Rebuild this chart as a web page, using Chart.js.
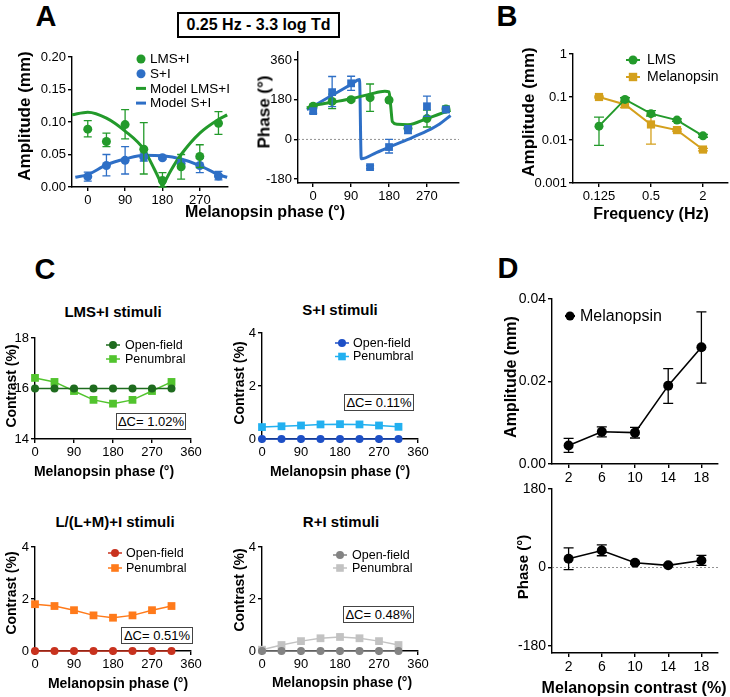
<!DOCTYPE html>
<html><head><meta charset="utf-8"><title>Figure</title>
<script src="https://cdn.jsdelivr.net/npm/chart.js@4.4.1/dist/chart.umd.min.js"></script>
<style>
html,body{margin:0;padding:0;background:#fff;}
body{width:730px;height:697px;position:relative;overflow:hidden;font-family:"Liberation Sans",Arial,Helvetica,sans-serif;color:#000;}
canvas{position:absolute;z-index:1;}
.h,.v,.L{position:absolute;white-space:nowrap;font-weight:bold;line-height:1;z-index:2;}
.h,.L{transform:translate(-50%,-50%);}
.v{transform:translate(-50%,-50%) rotate(-90deg);}
.L{font-size:29px;}
.dc{position:absolute;box-sizing:border-box;height:17px;border:1.2px solid #444;font-size:13px;line-height:15px;text-align:center;z-index:2;background:#fff;white-space:nowrap;overflow:visible;}
#tbox{position:absolute;left:177px;top:12px;width:163px;height:26px;box-sizing:border-box;border:2px solid #000;font-weight:bold;font-size:16px;line-height:22px;text-align:center;z-index:2;}
</style></head>
<body>
<div class="L" style="left:46px;top:16px">A</div>
<div class="L" style="left:507px;top:16px">B</div>
<div class="L" style="left:45px;top:269px">C</div>
<div class="L" style="left:508px;top:268px">D</div>
<div id="tbox">0.25 Hz - 3.3 log Td</div>
<div class="v" style="left:24px;top:116px;font-size:17px">Amplitude (mm)</div>
<div class="v" style="left:264px;top:112px;font-size:17px">Phase (°)</div>
<div class="h" style="left:265px;top:212px;font-size:16px">Melanopsin phase (°)</div>
<div class="v" style="left:528px;top:112px;font-size:17px">Amplitude (mm)</div>
<div class="h" style="left:651px;top:214px;font-size:16px">Frequency (Hz)</div>
<div class="h" style="left:113px;top:311px;font-size:15px">LMS+I stimuli</div>
<div class="h" style="left:340px;top:309px;font-size:15px">S+I stimuli</div>
<div class="h" style="left:115px;top:521px;font-size:15px">L/(L+M)+I stimuli</div>
<div class="h" style="left:341px;top:521px;font-size:15px">R+I stimuli</div>
<div class="v" style="left:11px;top:386px;font-size:14px">Contrast (%)</div>
<div class="v" style="left:239px;top:383px;font-size:14px">Contrast (%)</div>
<div class="v" style="left:11px;top:593px;font-size:14px">Contrast (%)</div>
<div class="v" style="left:239px;top:590px;font-size:14px">Contrast (%)</div>
<div class="h" style="left:104px;top:471px;font-size:14px">Melanopsin phase (°)</div>
<div class="h" style="left:340px;top:471px;font-size:14px">Melanopsin phase (°)</div>
<div class="h" style="left:118px;top:683px;font-size:14px">Melanopsin phase (°)</div>
<div class="h" style="left:342px;top:682px;font-size:14px">Melanopsin phase (°)</div>
<div class="dc" style="left:116px;top:413px;width:70px">ΔC= 1.02%</div>
<div class="dc" style="left:344px;top:394px;width:70px">ΔC= 0.11%</div>
<div class="dc" style="left:121px;top:627px;width:72px">ΔC= 0.51%</div>
<div class="dc" style="left:343px;top:606px;width:71px">ΔC= 0.48%</div>
<div class="v" style="left:511px;top:377px;font-size:16px">Amplitude (mm)</div>
<div class="v" style="left:522px;top:567px;font-size:15px">Phase (°)</div>
<div class="h" style="left:634px;top:688px;font-size:16px">Melanopsin contrast (%)</div>
<script>
// ---------------- DATA ----------------
// Panel A
const phaseDeg = [0, 45, 90, 135, 180, 225, 270, 315];
const ampLMS   = [0.089, 0.070, 0.096, 0.058, 0.010, 0.031, 0.047, 0.098];
const ampLMSLo = [0.077, 0.062, 0.074, 0.020, 0.000, 0.012, 0.030, 0.081];
const ampLMSHi = [0.102, 0.083, 0.119, 0.099, 0.022, 0.050, 0.065, 0.116];
const ampS     = [0.016, 0.033, 0.041, 0.046, 0.045, 0.036, 0.033, 0.017];
const ampSLo   = [0.009, 0.017, 0.020, 0.040, 0.043, 0.030, 0.022, 0.011];
const ampSHi   = [0.023, 0.050, 0.062, 0.052, 0.047, 0.042, 0.044, 0.024];
const modelAmpX_LMS = [-38, 0, 45, 90, 135, 160, 175, 180, 185, 200, 225, 270, 315, 336];
const modelAmpLMS   = [0.111, 0.115, 0.106, 0.086, 0.058, 0.028, 0.008, 0.001, 0.007, 0.025, 0.050, 0.083, 0.104, 0.111];
const modelAmpX_S   = [-30, 0, 45, 90, 135, 180, 225, 270, 315, 336];
const modelAmpS     = [0.015, 0.019, 0.034, 0.043, 0.049, 0.048, 0.043, 0.033, 0.019, 0.015];
const phLMS   = [150, 172, 180, 189, 178, 50, 94, 138];
const phLMSLo = [141, 139, 172, 127, 170, 42, 56, 126];
const phLMSHi = [159, 205, 188, 251, 186, 58, 132, 150];
const phS     = [128, 214, 254, -126, -35, 44, 150, 135];
const phSLo   = [118, 148, 222, -133, -62, 26, 104, 122];
const phSHi   = [138, 285, 286, -119, 0, 62, 196, 148];
const modelPhX_LMS = [-15, 0, 45, 90, 135, 170, 180, 184, 188, 200, 225, 270, 300, 326];
const modelPhLMS   = [142, 152, 168, 184, 205, 218, 215, 150, 80, 68, 66, 94, 115, 131];
const modelPhX_S   = [-15, 0, 45, 90, 110, 114, 150, 180, 225, 270, 300, 326];
const modelPhS     = [135, 150, 200, 249, 271, -88, -60, -35, 0, 38, 70, 108];
// Panel B
const freqHz      = [0.125, 0.25, 0.5, 1, 2];
const ampB_LMS    = [0.021, 0.088, 0.041, 0.029, 0.0125];
const ampB_LMSLo  = [0.0075, 0.080, 0.036, 0.027, 0.0116];
const ampB_LMSHi  = [0.034, 0.096, 0.048, 0.031, 0.0135];
const ampB_Mel    = [0.100, 0.067, 0.023, 0.017, 0.006];
const ampB_MelLo  = [0.095, 0.057, 0.008, 0.016, 0.0056];
const ampB_MelHi  = [0.105, 0.077, 0.038, 0.018, 0.0064];
// Panel C
const c1Open = [16, 16, 16, 16, 16, 16, 16, 16];
const c1Pen  = [16.42, 16.26, 15.9, 15.55, 15.4, 15.55, 15.9, 16.26];
const c2Open = [0, 0, 0, 0, 0, 0, 0, 0];
const c2Pen  = [0.45, 0.48, 0.51, 0.55, 0.56, 0.55, 0.51, 0.46];
const c3Open = [0, 0, 0, 0, 0, 0, 0, 0];
const c3Pen  = [1.80, 1.73, 1.57, 1.37, 1.28, 1.37, 1.57, 1.73];
const c4Open = [0, 0, 0, 0, 0, 0, 0, 0];
const c4Pen  = [0.05, 0.23, 0.38, 0.49, 0.54, 0.49, 0.38, 0.23];
// Panel D
const melContrast = [2, 6, 10, 14, 18];
const dAmp    = [0.0045, 0.0078, 0.0076, 0.0190, 0.0283];
const dAmpLo  = [0.0028, 0.0066, 0.0063, 0.0147, 0.0196];
const dAmpHi  = [0.0062, 0.0090, 0.0089, 0.0231, 0.0369];
const dPhase   = [20, 39, 11, 5, 16];
const dPhaseLo = [-5, 27, 8, 3, 5];
const dPhaseHi = [45, 52, 14, 7, 28];
// Ticks
const tickAampV = [0, 0.05, 0.10, 0.15, 0.20];
const tickAampL = ['0.00', '0.05', '0.10', '0.15', '0.20'];
const tickAphV = [-180, 0, 180, 360];
const tickAphL = ['-180', '0', '180', '360'];
const tickAxV = [0, 90, 180, 270];
const tickAxL = ['0', '90', '180', '270'];
const tickBxV = [0.125, 0.5, 2];
const tickBxL = ['0.125', '0.5', '2'];
const tickByV = [0.001, 0.01, 0.1, 1];
const tickByL = ['0.001', '0.01', '0.1', '1'];
const tickCxV = [0, 90, 180, 270, 360];
const tickCxL = ['0', '90', '180', '270', '360'];
const tickC1yV = [14, 16, 18];
const tickC1yL = ['14', '16', '18'];
const tickCyV = [0, 2, 4];
const tickCyL = ['0', '2', '4'];
const tickDxV = [2, 6, 10, 14, 18];
const tickDxL = ['2', '6', '10', '14', '18'];
const tickDampV = [0, 0.02, 0.04];
const tickDampL = ['0.00', '0.02', '0.04'];
const tickDphV = [-180, 0, 180];
const tickDphL = ['-180', '0', '180'];

// ---------------- STYLE ----------------
const FONT = '"Liberation Sans", Arial, Helvetica, sans-serif';
const GREEN = '#239a2b', BLUE = '#2e6fc6', GOLD = '#d4a01c';
const C1O = '#1e6b1e', C1P = '#52c42e', C2O = '#1d4fc6', C2P = '#22b0f0';
const C3O = '#c8321e', C3P = '#ff7a1a', C4O = '#838383', C4P = '#c2c2c2';
const YW = 50, XH = 28, PT = 14, PR = 20;

const pts = (xs, ys) => xs.map((x, i) => ({x: x, y: ys[i]}));

function axis(o) {
  return {
    type: o.type || 'linear', min: o.min, max: o.max,
    border: {display: true, color: '#000', width: 1.4},
    grid: {display: true, drawOnChartArea: false, drawTicks: true, tickLength: 4, color: '#000', lineWidth: 1.4},
    ticks: {color: '#000', font: {family: FONT, size: o.fs || 13}, padding: 2, autoSkip: false, maxRotation: 0, minRotation: 0,
            callback: (v, i) => o.labels[i]},
    afterBuildTicks: s => { s.ticks = o.vals.map(v => ({value: v})); },
    afterFit: s => { if (o.isY) s.width = YW; else s.height = XH; }
  };
}

const errPlugin = {
  id: 'errbars',
  beforeDatasetDraw(chart, args) {
    const ds = chart.data.datasets[args.index];
    if (!ds.errLo) return;
    const xs = chart.scales.x, ys = chart.scales.y, ctx = chart.ctx;
    ctx.save();
    ctx.strokeStyle = ds.errColor || ds.borderColor;
    ctx.lineWidth = ds.errWidth || 1.3;
    const c = ds.capW || 4;
    ds.data.forEach((d, i) => {
      const px = xs.getPixelForValue(d.x);
      const y1 = ys.getPixelForValue(ds.errLo[i]), y2 = ys.getPixelForValue(ds.errHi[i]);
      ctx.beginPath();
      ctx.moveTo(px, y1); ctx.lineTo(px, y2);
      ctx.moveTo(px - c, y1); ctx.lineTo(px + c, y1);
      ctx.moveTo(px - c, y2); ctx.lineTo(px + c, y2);
      ctx.stroke();
    });
    ctx.restore();
  }
};

function makeLegend(cfg, offX, offY) {
  return {
    id: 'lg',
    afterDraw(chart) {
      if (!cfg) return;
      const ctx = chart.ctx;
      ctx.save();
      cfg.items.forEach((it, k) => {
        const y = cfg.y + k * cfg.dy - offY, mx = cfg.x - offX;
        ctx.strokeStyle = it.c; ctx.fillStyle = it.c;
        if (it.line) {
          ctx.lineWidth = it.lw || 2;
          ctx.beginPath(); ctx.moveTo(mx - it.line, y); ctx.lineTo(mx + it.line, y); ctx.stroke();
        }
        if (it.pt === 'circle') {
          ctx.beginPath(); ctx.arc(mx, y, it.r, 0, Math.PI * 2); ctx.fill();
        } else if (it.pt === 'rect') {
          ctx.fillRect(mx - it.r, y - it.r, it.r * 2, it.r * 2);
        }
        ctx.fillStyle = '#000';
        ctx.font = cfg.fs + 'px ' + FONT;
        ctx.textBaseline = 'middle'; ctx.textAlign = 'left';
        ctx.fillText(it.t, cfg.tx - offX, y + 0.5);
      });
      ctx.restore();
    }
  };
}

function build(area, datasets, xs, ys, legend) {
  const cv = document.createElement('canvas');
  const w = area.r - area.l + YW + PR, h = area.b - area.t + PT + XH;
  const offX = area.l - YW, offY = area.t - PT;
  cv.width = w; cv.height = h;
  cv.style.left = offX + 'px'; cv.style.top = offY + 'px';
  cv.style.width = w + 'px'; cv.style.height = h + 'px';
  document.body.appendChild(cv);
  new Chart(cv.getContext('2d'), {
    type: 'line',
    data: {datasets: datasets.map(d => Object.assign({clip: false, borderWidth: 1.5, tension: 0, pointBorderWidth: 0, pointHoverRadius: 0}, d))},
    options: {
      responsive: false, animation: false, devicePixelRatio: 1, events: [],
      layout: {padding: {left: 0, top: PT, right: PR, bottom: 0}},
      plugins: {legend: {display: false}, tooltip: {enabled: false}},
      scales: {x: xs, y: ys}
    },
    plugins: [errPlugin, makeLegend(legend, offX, offY)]
  });
}

function scatterDs(xv, yv, color, style, r, lo, hi, extra) {
  return Object.assign({data: pts(xv, yv), showLine: false, pointStyle: style, pointRadius: r,
    pointBackgroundColor: color, borderColor: color, errLo: lo, errHi: hi}, extra || {});
}
function lineDs(xv, yv, color, style, r, lw, extra) {
  return Object.assign({data: pts(xv, yv), showLine: true, pointStyle: style, pointRadius: r,
    pointBackgroundColor: color, borderColor: color, borderWidth: lw}, extra || {});
}
function zeroDs(min, max) {
  return {data: [{x: min, y: 0}, {x: max, y: 0}], borderColor: '#777', borderWidth: 0.8, borderDash: [2, 2], pointRadius: 0};
}

// ---------------- PANEL A (amplitude) ----------------
build({l: 72, r: 228, t: 57, b: 187}, [
  scatterDs(phaseDeg, ampLMS, GREEN, 'circle', 4.5, ampLMSLo, ampLMSHi),
  scatterDs(phaseDeg, ampS, BLUE, 'circle', 4.5, ampSLo, ampSHi),
  lineDs(modelAmpX_LMS, modelAmpLMS, GREEN, 'circle', 0, 3, {cubicInterpolationMode: 'monotone'}),
  lineDs(modelAmpX_S, modelAmpS, BLUE, 'circle', 0, 3, {cubicInterpolationMode: 'monotone'})
], axis({min: -38, max: 338, vals: tickAxV, labels: tickAxL}),
   axis({min: 0, max: 0.2, vals: tickAampV, labels: tickAampL, isY: true}),
   {x: 141, tx: 150, y: 59, dy: 14.7, fs: 13.5, items: [
     {t: 'LMS+I', c: GREEN, pt: 'circle', r: 4.5},
     {t: 'S+I', c: BLUE, pt: 'circle', r: 4.5},
     {t: 'Model LMS+I', c: GREEN, line: 5, lw: 3},
     {t: 'Model S+I', c: BLUE, line: 5, lw: 3}]});

// ---------------- PANEL A (phase) ----------------
build({l: 298, r: 459, t: 52, b: 183}, [
  scatterDs(phaseDeg, phS, BLUE, 'rect', 5.5, phSLo, phSHi),
  scatterDs(phaseDeg, phLMS, GREEN, 'circle', 4.5, phLMSLo, phLMSHi),
  lineDs(modelPhX_LMS, modelPhLMS, GREEN, 'circle', 0, 3, {cubicInterpolationMode: 'monotone'}),
  lineDs(modelPhX_S, modelPhS, BLUE, 'circle', 0, 3, {cubicInterpolationMode: 'monotone'}),
  zeroDs(-36, 346)
], axis({min: -36, max: 346, vals: tickAxV, labels: tickAxL}),
   axis({min: -198, max: 396, vals: tickAphV, labels: tickAphL, isY: true}), null);

// ---------------- PANEL B ----------------
build({l: 573, r: 728, t: 54, b: 183}, [
  lineDs(freqHz, ampB_LMS, GREEN, 'circle', 4.5, 2, {errLo: ampB_LMSLo, errHi: ampB_LMSHi, capW: 5}),
  lineDs(freqHz, ampB_Mel, GOLD, 'rect', 5.8, 2, {errLo: ampB_MelLo, errHi: ampB_MelHi, capW: 5})
], axis({type: 'logarithmic', min: 0.0625, max: 3.9, vals: tickBxV, labels: tickBxL}),
   axis({type: 'logarithmic', min: 0.001, max: 1, vals: tickByV, labels: tickByL, isY: true}),
   {x: 633, tx: 647, y: 60, dy: 17, fs: 14, items: [
     {t: 'LMS', c: GREEN, pt: 'circle', r: 4.5, line: 7, lw: 2},
     {t: 'Melanopsin', c: GOLD, pt: 'rect', r: 4.2, line: 7, lw: 2}]});

// ---------------- PANEL C ----------------
function cPanel(area, openV, penV, colO, colP, yMin, yMax, yV, yL, lg) {
  build(area, [
    lineDs(phaseDeg, openV, colO, 'circle', 4, 1.5),
    lineDs(phaseDeg, penV, colP, 'rect', 5.5, 1.5)
  ], axis({min: 0, max: 360, vals: tickCxV, labels: tickCxL}),
     axis({min: yMin, max: yMax, vals: yV, labels: yL, isY: true}),
     {x: lg.x, tx: lg.tx, y: lg.y, dy: lg.dy, fs: 12.5, items: [
       {t: 'Open-field', c: colO, pt: 'circle', r: 4, line: 7, lw: 1.5},
       {t: 'Penumbral', c: colP, pt: 'rect', r: 3.8, line: 7, lw: 1.5}]});
}
cPanel({l: 35, r: 191, t: 338, b: 439}, c1Open, c1Pen, C1O, C1P, 14, 18, tickC1yV, tickC1yL, {x: 113, tx: 125, y: 345, dy: 14});
cPanel({l: 262, r: 418, t: 333, b: 439}, c2Open, c2Pen, C2O, C2P, 0, 4, tickCyV, tickCyL, {x: 342, tx: 353, y: 343, dy: 13.5});
cPanel({l: 35, r: 191, t: 547, b: 651}, c3Open, c3Pen, C3O, C3P, 0, 4, tickCyV, tickCyL, {x: 115, tx: 126, y: 553, dy: 15});
cPanel({l: 262, r: 418, t: 547, b: 651}, c4Open, c4Pen, C4O, C4P, 0, 4, tickCyV, tickCyL, {x: 340, tx: 352, y: 555, dy: 13});

// ---------------- PANEL D ----------------
build({l: 552, r: 718, t: 299, b: 464}, [
  lineDs(melContrast, dAmp, '#000', 'circle', 5, 1.6, {errLo: dAmpLo, errHi: dAmpHi, capW: 5})
], axis({min: 0, max: 20, vals: tickDxV, labels: tickDxL, fs: 14}),
   axis({min: 0, max: 0.04, vals: tickDampV, labels: tickDampL, isY: true, fs: 14}),
   {x: 570, tx: 580, y: 316, dy: 0, fs: 16, items: [
     {t: 'Melanopsin', c: '#000', pt: 'circle', r: 4.5, line: 5, lw: 2}]});

build({l: 552, r: 718, t: 489, b: 653}, [
  lineDs(melContrast, dPhase, '#000', 'circle', 5, 1.6, {errLo: dPhaseLo, errHi: dPhaseHi, capW: 5}),
  zeroDs(0, 20)
], axis({min: 0, max: 20, vals: tickDxV, labels: tickDxL, fs: 14}),
   axis({min: -196, max: 180, vals: tickDphV, labels: tickDphL, isY: true, fs: 14}), null);
</script>
</body></html>
